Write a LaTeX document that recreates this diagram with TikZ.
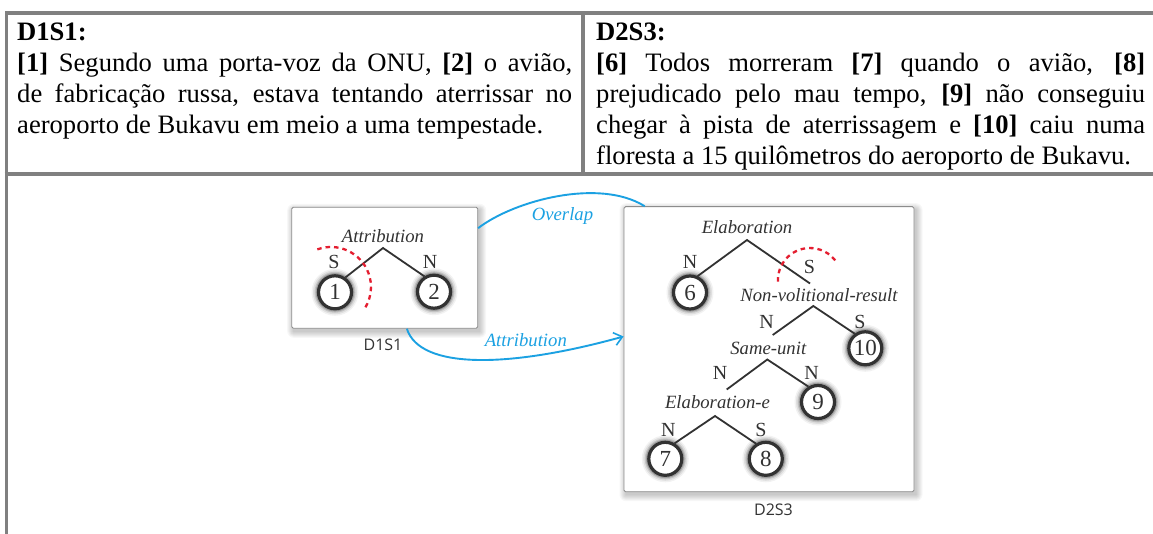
\documentclass[tikz,border=0pt]{standalone}
\usepackage{fontspec}
\setmainfont{Liberation Serif}
\newfontfamily\capfont{Open Sans}
\usetikzlibrary{arrows.meta}
\definecolor{rulegray}{RGB}{128,128,128}
\definecolor{ink}{RGB}{50,50,50}
\definecolor{linkblue}{RGB}{27,161,226}
\definecolor{satred}{RGB}{228,30,48}
\definecolor{boxgray}{RGB}{140,140,140}
\newcommand\bodyfont{\fontsize{26.6}{31}\selectfont}
% a discourse unit: soft halo, then the ringed number
\newcommand\eduat[3]{%
  \foreach \r/\o in {23.5/0.05,22/0.08,20.5/0.12,19.3/0.18}
    \fill[black,opacity=\o] (#2) circle[radius=\r pt];
  \node[edu] (#1) at (#2) {#3};}
% soft shadow under a panel: corners (x1,y1) (x2,y2)
\newcommand\panelshadow[4]{%
  \foreach \e in {0.5,1.5,...,6.5}
    \fill[black,opacity=0.03,rounded corners=\e pt] (#1+2-\e,#2+3-\e) rectangle (#3+2+\e,#4+3+\e);}
\begin{document}
\begin{tikzpicture}[x=1pt,y=-1pt,
  rule/.style={rulegray,line width=3.6pt,line join=miter},
  cell/.style={anchor=base west,inner sep=0pt,font=\bodyfont},
  panel/.style={draw=boxgray,line width=0.9pt,fill=white,rounded corners=1.5pt,inner sep=0pt},
  rel/.style={anchor=base,inner sep=0pt,text=ink,font=\fontsize{18.7}{20}\selectfont\itshape},
  nuc/.style={anchor=base,inner sep=0pt,text=ink,font=\fontsize{20}{20}\selectfont},
  edu/.style={circle,draw=ink,line width=3.2pt,fill=white,minimum size=33pt,inner sep=0pt,text=ink,font=\fontsize{23}{23}\selectfont},
  branch/.style={ink,line width=1.8pt},
  link/.style={linkblue,line width=1.9pt},
  linklabel/.style={anchor=base,inner sep=0pt,text=linkblue,font=\fontsize{18.7}{20}\selectfont\itshape},
  satmark/.style={satred,line width=2.3pt,dash pattern=on 4.5pt off 4pt},
  caption/.style={anchor=base,inner sep=0pt,text=ink,font=\capfont\fontsize{16}{16}\selectfont},
]
\useasboundingbox (0,0) rectangle (1153,534);
\fill[white] (0,0) rectangle (1153,534);

% ---- table rules ----
\draw[rule] (6.5,534) -- (6.5,13) -- (1153,13);
\draw[rule] (582.8,13) -- (582.8,174);
\draw[rule] (4.7,174) -- (1153,174);

% ---- left cell ----
\node[cell] (t1a) at (17,40.5) {\textbf{D1S1:}};
\node[cell] (t1b) at (17,71.6) {\makebox[555pt][s]{\textbf{[1]} Segundo uma porta-voz da ONU, \textbf{[2]} o avião,}};
\node[cell] (t1c) at (17,102.7) {\makebox[555pt][s]{de fabricação russa, estava tentando aterrissar no}};
\node[cell] (t1d) at (17,133.8) {aeroporto de Bukavu em meio a uma tempestade.};

% ---- right cell ----
\node[cell] (t2a) at (596,40.5) {\textbf{D2S3:}};
\node[cell] (t2b) at (596,71.6) {\makebox[549pt][s]{\textbf{[6]} Todos morreram \textbf{[7]} quando o avião, \textbf{[8]}}};
\node[cell] (t2c) at (596,102.7) {\makebox[549pt][s]{prejudicado pelo mau tempo, \textbf{[9]} não conseguiu}};
\node[cell] (t2d) at (596,133.8) {\makebox[549pt][s]{chegar à pista de aterrissagem e \textbf{[10]} caiu numa}};
\node[cell] (t2e) at (596,164.9) {floresta a 15 quilômetros do aeroporto de Bukavu.};

% ---- panels ----
\panelshadow{291.7}{207.3}{477.7}{328.3}
\panelshadow{624}{206.7}{914}{491.7}
\node[panel,minimum width=186pt,minimum height=121pt] (box1) at (384.7,267.8) {};
\node[panel,minimum width=290pt,minimum height=285pt] (box2) at (769,349.2) {};
\node[caption] (cap1) at (383,350) {D1S1};
\node[caption] (cap2) at (773.5,515) {D2S3};

% ---- tree of D1S1 ----
\node[rel] (r1) at (383,243) {Attribution};
\coordinate (r1a) at (383,248);
\node[nuc] (s1) at (334,269) {S};
\node[nuc] (n2) at (430,269) {N};
\eduat{c1}{335,292.3}{1}
\eduat{c2}{434,291.7}{2}
\draw[branch] (c1.55) -- (r1a) -- (c2.122);
\draw[satmark] (317.3,249.4) arc[start angle=110,end angle=-31,radius=40pt];

% ---- tree of D2S3 ----
\node[rel] (r2) at (747,234) {Elaboration};
\coordinate (r2a) at (747,240);
\node[nuc] (n6) at (690,269) {N};
\node[nuc] (s2) at (809.3,274) {S};
\eduat{c6}{690,292.5}{6}
\node[rel] (r3) at (819,302) {Non-volitional-result};
\coordinate (r3t) at (810,283.5);
\coordinate (r3a) at (813.3,306);
\node[nuc] (n3) at (766.7,329) {N};
\node[nuc] (s3) at (860,329) {S};
\eduat{c10}{865.3,348.3}{10}
\node[rel] (r4) at (768.3,354.5) {Same-unit};
\coordinate (r4t) at (772.7,335);
\coordinate (r4a) at (767.3,359.5);
\node[nuc] (n4) at (720,379) {N};
\node[nuc] (n9) at (811.7,379) {N};
\eduat{c9}{818,402}{9}
\node[rel] (r5) at (717.5,408) {Elaboration-e};
\coordinate (r5t) at (726.7,389.5);
\coordinate (r5a) at (715,416);
\node[nuc] (n7) at (668.3,436) {N};
\node[nuc] (s8) at (761,436) {S};
\eduat{c7}{665.3,458.8}{7}
\eduat{c8}{765.8,458.8}{8}

\draw[branch] (c6.65) -- (r2a) -- (r3t);
\draw[branch] (r4t) -- (r3a) -- (c10.126);
\draw[branch] (r5t) -- (r4a) -- (c9.122);
\draw[branch] (c7.59) -- (r5a) -- (c8.123);
\draw[satmark] (778,281.7) arc[start angle=183,end angle=34,radius=32pt];

% ---- links between the two sentences ----
\draw[link] (box1.23) .. controls (515,200) and (600,178) .. (box2.131.5);
\node[linklabel] (lk1) at (562.5,220.5) {Overlap};
\draw[link,-{Straight Barb[length=8pt,width=13pt,line width=1.6pt]}] (box1.-70) .. controls (420,370) and (510,368) .. (box2.175.2);
\node[linklabel] (lk2) at (525.8,346) {Attribution};
\end{tikzpicture}
\end{document}
